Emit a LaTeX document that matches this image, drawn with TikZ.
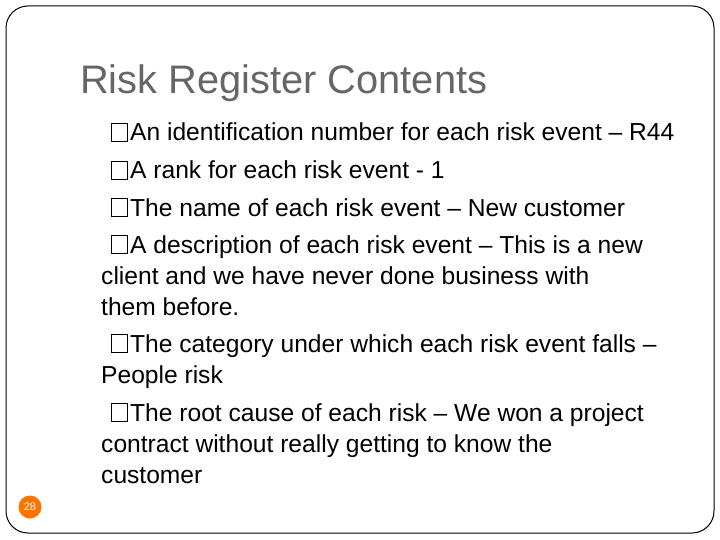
\documentclass[tikz,border=0pt]{standalone}
\usepackage{fontspec}
\setmainfont{Liberation Sans}
\begin{document}
\begin{tikzpicture}[x=1pt,y=-1pt,
  line/.style={anchor=base west,inner sep=0pt,font=\fontsize{24.6}{28}\selectfont},
  box/.style={draw=black,line width=0.8pt,minimum width=16pt,minimum height=18pt,inner sep=0pt,anchor=south west}]
\useasboundingbox (0,0) rectangle (720,540);
\draw[rounded corners=22pt,line width=1pt] (6,6) rectangle (714,533);
\node[anchor=base west,inner sep=0pt,text=black!60,font=\fontsize{39.8}{44}\selectfont] (title) at (80,94) {Risk Register Contents};
\foreach \y in {142,180,217,254,353,422} \node[box] at (111,\y) {};
\node[line] (l1) at (130,141) {An identification number for each risk event – R44};
\node[line] (l2) at (130,179) {A rank for each risk event - 1};
\node[line] (l3) at (130,216) {The name of each risk event – New customer};
\node[line] (l4) at (130,253) {A description of each risk event – This is a new};
\node[line] (l5) at (101,284) {client and we have never done business with};
\node[line] (l6) at (101,315) {them before.};
\node[line] (l7) at (130,352) {The category under which each risk event falls –};
\node[line] (l8) at (101,383) {People risk};
\node[line] (l9) at (130,421) {The root cause of each risk – We won a project};
\node[line] (l10) at (101,452) {contract without really getting to know the};
\node[line] (l11) at (101,483) {customer};
\node[circle,fill=orange!90!red,minimum size=23pt,inner sep=0pt,text=white,font=\fontsize{11}{12}\selectfont] (pg) at (30,507) {28};
\end{tikzpicture}
\end{document}
